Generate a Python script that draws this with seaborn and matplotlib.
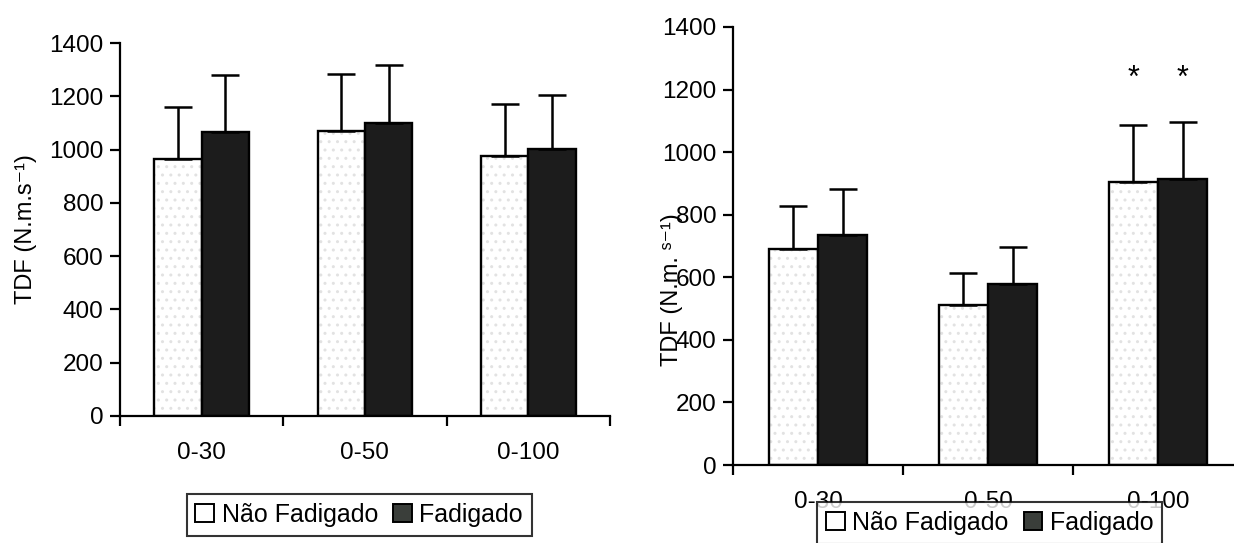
import matplotlib
matplotlib.use("Agg")
import matplotlib.pyplot as plt
from matplotlib.patches import Rectangle
from matplotlib.ticker import FixedLocator
import seaborn as sns
import pandas as pd
import numpy as np

categories = ["0-30", "0-50", "0-100"]
groups = ["Não Fadigado", "Fadigado"]

# left panel
left_nf = [966, 1069, 975]
left_f = [1067, 1099, 1003]
left_nf_sd = [194, 216, 196]
left_f_sd = [214, 218, 200]

# right panel
right_nf = [691, 513, 904]
right_f = [734, 580, 913]
right_nf_sd = [138, 100, 184]
right_f_sd = [148, 116, 183]

colors = ["white", "#1c1c1c"]

sns.set_style("ticks", {"axes.edgecolor": "black", "text.color": "black",
                        "axes.labelcolor": "black", "xtick.color": "black",
                        "ytick.color": "black"})
plt.rcParams["font.family"] = ["Liberation Sans", "DejaVu Sans"]


def make_df(nf, f):
    return pd.DataFrame({
        "Faixa": categories * 2,
        "Grupo": [groups[0]] * 3 + [groups[1]] * 3,
        "TDF": nf + f,
    })


def draw(ax, nf, f, nf_sd, f_sd):
    sns.barplot(data=make_df(nf, f), x="Faixa", y="TDF", hue="Grupo",
                palette=colors, width=0.58, errorbar=None,
                edgecolor="black", linewidth=1.7, ax=ax, legend=False)
    bars = list(ax.containers[:2])
    for cont, sd in zip(bars, [nf_sd, f_sd]):
        xs = [p.get_x() + p.get_width() / 2 for p in cont.patches]
        ys = [p.get_height() for p in cont.patches]
        ax.errorbar(xs, ys, yerr=[np.zeros(len(sd)), sd], fmt="none",
                    ecolor="black", elinewidth=1.8, capsize=10, capthick=1.8,
                    zorder=1)
    # faint dot texture on the white bars
    for p in bars[0].patches:
        p.set_facecolor("none")
        ax.add_patch(Rectangle((p.get_x(), 0), p.get_width(), p.get_height(),
                               facecolor="white", hatch="..",
                               edgecolor="#e2e2e2", linewidth=0,
                               zorder=p.get_zorder() - 0.1))
    ax.set_xlim(-0.5, 2.5)
    ax.set_ylim(0, 1400)
    ax.set_yticks(range(0, 1401, 200))
    ax.xaxis.set_major_locator(FixedLocator([-0.5, 0.5, 1.5, 2.5]))
    ax.xaxis.set_minor_locator(FixedLocator([0, 1, 2]))
    ax.set_xticklabels([])
    ax.set_xticklabels(categories, minor=True)
    ax.tick_params(axis="x", which="minor", length=0, pad=19, labelsize=17.5)
    ax.tick_params(axis="x", which="major", length=7, width=1.6, direction="out")
    ax.tick_params(axis="y", length=7, width=1.6, labelsize=17.5, pad=5)
    ax.set_xlabel("")
    for s in ["top", "right"]:
        ax.spines[s].set_visible(False)
    for s in ["left", "bottom"]:
        ax.spines[s].set_linewidth(1.6)
    return bars


fig = plt.figure(figsize=(12.34, 5.43), dpi=100)
axL = fig.add_axes([0.0972, 0.2339, 0.3970, 0.6869])
axR = fig.add_axes([0.594, 0.1436, 0.4133, 0.8067])

draw(axL, left_nf, left_f, left_nf_sd, left_f_sd)
bars_r = draw(axR, right_nf, right_f, right_nf_sd, right_f_sd)

axL.set_ylabel("TDF (N.m.s\u207b\u00b9)", fontsize=17)
axL.yaxis.set_label_coords(-0.17, 0.5)

axR.set_ylabel("TDF (N.m. \u02e2\u207b\u00b9)", fontsize=17)
axR.yaxis.set_label_coords(-0.098, 0.40)

# significance markers above 0-100
for cont in bars_r:
    p = cont.patches[2]
    axR.text(p.get_x() + p.get_width() / 2, 1235, "*", ha="center",
             va="center", fontsize=22)

handles = [Rectangle((0, 0), 1, 1, facecolor=c, edgecolor="black", linewidth=1.4)
           for c in ["white", "#3a3e3a"]]
for xc, yc in [(0.291, 0.052), (0.802, 0.037)]:
    leg = fig.legend(handles, groups, loc="center", bbox_to_anchor=(xc, yc),
                     ncol=2, fontsize=18, frameon=True, fancybox=False,
                     handlelength=0.75, handleheight=0.75, handletextpad=0.3,
                     columnspacing=0.6, borderpad=0.35, borderaxespad=0)
    leg.get_frame().set_edgecolor("black")
    leg.get_frame().set_linewidth(1.5)

fig.savefig("out.png", dpi=100)
